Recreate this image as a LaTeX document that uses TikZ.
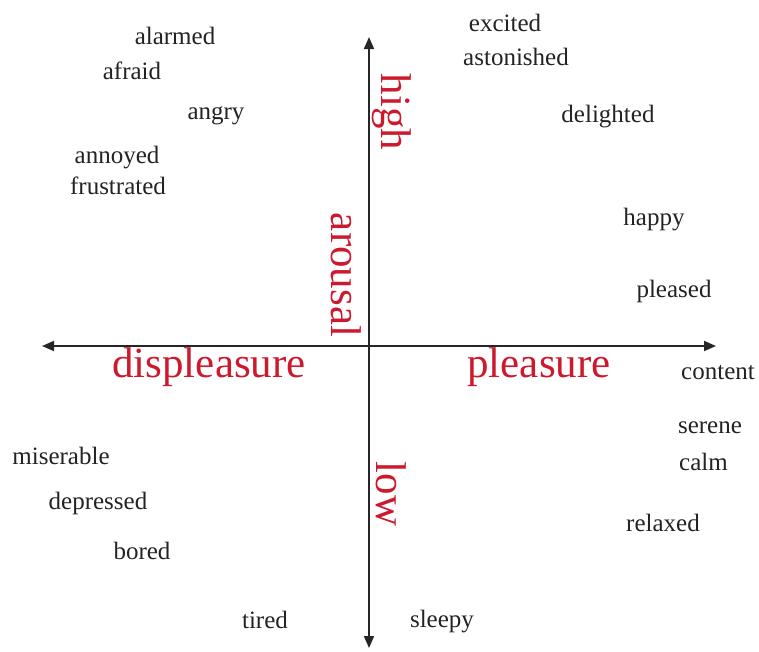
\documentclass[tikz,border=0pt]{standalone}
\usepackage{fontspec}
\setmainfont{Liberation Serif}
\usetikzlibrary{arrows.meta}
\definecolor{axisred}{RGB}{205,25,45}
\definecolor{wordgray}{RGB}{35,35,35}
\begin{document}
\begin{tikzpicture}
  [x=1pt,y=-1pt,
   emo/.style={inner sep=0pt,text=wordgray,font=\fontsize{25}{30}\selectfont},
   axislabel/.style={inner sep=0pt,text=axisred,font=\fontsize{43}{50}\selectfont},
   axisline/.style={line width=1.8pt,draw=black!85,{Triangle[length=12pt,width=10pt]}-{Triangle[length=12pt,width=10pt]}}]
  \useasboundingbox (0,0) rectangle (759,651);

  % Ejes del circumplejo
  \coordinate (west)  at (42,346);
  \coordinate (east)  at (716,346);
  \coordinate (north) at (369,37);
  \coordinate (south) at (369,648);
  \draw[axisline] (west) -- (east);
  \draw[axisline] (south) -- (north);

  % Etiquetas de los ejes
  \node[axislabel] (displeasure) at (209,367) {displeasure};
  \node[axislabel] (pleasure) at (539,367) {pleasure};
  \node[axislabel,rotate=-90] (high) at (392,112) {high};
  \node[axislabel,rotate=-90] (arousal) at (346,275) {arousal};
  \node[axislabel,rotate=-90] (low) at (391,494) {low};

  % Emociones
  \foreach \name/\x/\y in {alarmed/175/36, afraid/132/71, angry/216/116,
      annoyed/117/158, frustrated/118/186, excited/505/23, astonished/516/57,
      delighted/608/117, happy/654/220, pleased/674/291, content/718/373,
      serene/710/428, relaxed/663/523, miserable/61/456, depressed/98/503,
      bored/142/551, tired/265/620, sleepy/442/622}
    \node[emo] (\name) at (\x,\y) {\name};
  \node[emo,anchor=west] (calm) at (679,462) {calm};
\end{tikzpicture}
\end{document}
